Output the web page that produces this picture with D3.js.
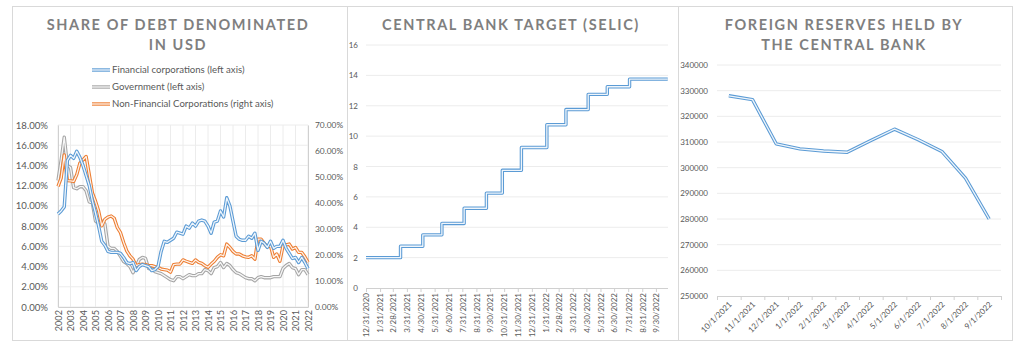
<!DOCTYPE html>
<html><head><meta charset="utf-8">
<script src="https://cdn.jsdelivr.net/npm/d3@7"></script>
<style>
html,body{margin:0;padding:0;background:#fff;}
svg{display:block;font-family:Lato,"Open Sans",sans-serif;}
</style></head>
<body><svg id="c" width="1024" height="348"></svg>
<script>
// ---------- DATA ----------
// Panel 1: quarterly, 2002Q1 .. 2022Q1
const yearTicks = ["2002","2003","2004","2005","2006","2007","2008","2009","2010","2011","2012","2013","2014","2015","2016","2017","2018","2019","2020","2021","2022"];
const financialCorp = [9.2,9.5,9.9,14.5,15.0,14.7,15.4,14.8,14.0,13.0,12.0,10.5,9.3,8.0,6.5,6.1,5.5,5.4,5.4,5.4,5.3,4.9,4.4,4.3,4.4,3.6,4.0,4.2,4.1,4.0,3.6,3.7,4.0,5.5,6.5,6.4,6.6,6.8,7.4,7.3,7.2,8.0,7.8,8.3,8.0,8.5,8.6,8.5,8.0,7.3,8.4,8.5,9.5,8.9,10.8,10.0,8.5,7.0,6.7,6.6,6.6,7.0,6.8,7.3,5.6,6.5,6.3,5.9,6.5,5.8,6.0,6.0,6.6,5.8,5.3,4.8,4.9,4.4,4.9,4.4,3.8];
const government = [12.5,14.5,16.8,14.0,13.8,11.8,11.7,11.9,11.9,11.5,10.4,10.3,8.5,8.3,8.5,8.2,6.0,5.8,5.8,5.5,5.0,4.5,4.3,4.0,3.4,4.0,4.7,4.9,4.8,3.8,3.8,3.5,3.4,3.3,3.1,2.9,2.7,2.6,3.0,3.0,2.8,3.0,3.2,3.1,3.1,3.3,3.3,3.7,3.6,3.3,3.9,4.0,4.4,3.9,4.3,4.1,3.7,3.4,3.3,3.1,2.9,2.8,2.8,2.6,2.9,3.0,2.9,2.9,2.9,3.0,3.0,3.0,3.8,4.1,4.3,3.9,3.8,3.2,3.7,3.7,3.2];
const nonFinancialCorp = [46.4,49.6,58.5,48.6,48.5,48.3,50.9,55.3,56.6,57.9,50.9,43.9,40.7,36.9,31.2,33.7,34.6,35.0,34.1,30.5,28.6,24.8,21.6,19.7,18.4,15.9,16.3,16.5,16.3,15.9,15.9,15.5,15.3,14.6,14.4,14.2,13.4,16.3,16.5,16.5,18.1,17.6,17.2,16.8,18.1,17.2,16.8,15.9,15.3,16.5,17.6,19.1,20.1,19.7,24.2,22.9,21.4,20.4,20.4,19.7,19.3,19.1,19.7,18.4,26.1,26.1,24.4,23.2,23.5,19.1,20.4,17.6,23.5,23.9,24.2,22.3,22.9,21.0,21.0,19.3,17.2];
const leftTicks = [0,2,4,6,8,10,12,14,16,18];
const rightTicks = [0,10,20,30,40,50,60,70];
const legendLabels = ["Financial corporations (left axis)","Government (left axis)","Non-Financial Corporations (right axis)"];

// Panel 2: SELIC target changes
const selicDates = ["2020-12-31","2021-03-17","2021-05-05","2021-06-16","2021-08-04","2021-09-22","2021-10-27","2021-12-08","2022-02-02","2022-03-16","2022-05-04","2022-06-15","2022-08-03","2022-10-26"];
const selicValues = [2.00,2.75,3.50,4.25,5.25,6.25,7.75,9.25,10.75,11.75,12.75,13.25,13.75,13.75];
const selicTickLabels = ["12/31/2020","1/31/2021","2/28/2021","3/31/2021","4/30/2021","5/31/2021","6/30/2021","7/31/2021","8/31/2021","9/30/2021","10/31/2021","11/30/2021","12/31/2021","1/31/2022","2/28/2022","3/31/2022","4/30/2022","5/31/2022","6/30/2022","7/31/2022","8/31/2022","9/30/2022"];
const selicYTicks = [0,2,4,6,8,10,12,14,16];

// Panel 3: foreign reserves
const reserveMonths = ["10/1/2021","11/1/2021","12/1/2021","1/1/2022","2/1/2022","3/1/2022","4/1/2022","5/1/2022","6/1/2022","7/1/2022","8/1/2022","9/1/2022"];
const reserveValues = [328000,326500,309300,307300,306500,306000,310600,315000,310900,306300,295900,280000];
const reserveYTicks = [250000,260000,270000,280000,290000,300000,310000,320000,330000,340000];

// ---------- STYLE ----------
const C_BLUE="#5b9bd5", C_GRAY="#a5a5a5", C_ORANGE="#ed7d31";
const TXT="#595959", TITLE="#7f7f7f", GRID="#ececec", AXIS="#d0d0d0", BORDER="#d9d9d9";

const svg = d3.select("#c");

function panel(x0,y0,x1,y1){
  svg.append("rect").attr("x",x0+0.5).attr("y",y0+0.5).attr("width",x1-x0).attr("height",y1-y0)
    .attr("fill","#fff").attr("stroke",BORDER).attr("stroke-width",1);
}
function title(lines,cx,baselines){
  lines.forEach((t,i)=>{
    svg.append("text").attr("x",cx).attr("y",baselines[i]).attr("text-anchor","middle")
      .attr("fill",TITLE).attr("font-weight","bold").attr("font-size","14.5px")
      .attr("letter-spacing","1.6px").text(t);
  });
}
function dblLine(g,d,color){
  g.append("path").attr("d",d).attr("fill","none").attr("stroke",color).attr("stroke-width",3.4).attr("stroke-linejoin","round");
  g.append("path").attr("d",d).attr("fill","none").attr("stroke","#fff").attr("stroke-width",1.3).attr("stroke-linejoin","round").attr("opacity",0.9);
}

// ---------- PANELS ----------
panel(12,6,347,340);
panel(347,6,678,340);
panel(678,6,1012,340);

// ---------- PANEL 1 ----------
title(["SHARE OF DEBT DENOMINATED","IN USD"],178,[30,50]);

const legendColors=[C_BLUE,C_GRAY,C_ORANGE];
legendLabels.forEach((l,i)=>{
  const y=70+i*17;
  const g=svg.append("g");
  dblLine(g,`M92,${y}L110,${y}`,legendColors[i]);
  svg.append("text").attr("x",112).attr("y",y+3.3).attr("fill",TXT).attr("font-size","9.6px").text(l);
});

const x1 = d3.scaleLinear().domain([2002,2022]).range([58,308]);
const yL = d3.scaleLinear().domain([0,18]).range([307,125]);
const yR = d3.scaleLinear().domain([0,70]).range([307,125]);
const p1 = svg.append("g");
p1.append("g").selectAll("line").data(yearTicks).join("line")
  .attr("x1",d=>x1(+d)).attr("x2",d=>x1(+d)).attr("y1",125).attr("y2",307).attr("stroke",GRID);
p1.append("g").selectAll("line").data(leftTicks).join("line")
  .attr("x1",58).attr("x2",308).attr("y1",d=>yL(d)).attr("y2",d=>yL(d)).attr("stroke",GRID);
const axL = p1.append("g").attr("transform","translate(58,0)")
  .call(d3.axisLeft(yL).tickValues(leftTicks).tickSize(0).tickPadding(10).tickFormat(d=>d3.format(".2f")(d)+"%"));
const axR = p1.append("g").attr("transform","translate(308,0)")
  .call(d3.axisRight(yR).tickValues(rightTicks).tickSize(0).tickPadding(7).tickFormat(d=>d3.format(".2f")(d)+"%"));
const axB = p1.append("g").attr("transform","translate(0,307)")
  .call(d3.axisBottom(x1).tickValues(yearTicks.map(Number)).tickSize(0).tickFormat(d3.format("d")));
axB.selectAll("text").attr("transform","rotate(-90)").attr("text-anchor","end").attr("x",-3).attr("y",0).attr("dy","0.35em");
[axL,axR,axB].forEach(a=>{a.select(".domain").attr("stroke",AXIS);a.selectAll("text").attr("fill",TXT).attr("font-size","9.6px").attr("font-family","Lato,'Open Sans',sans-serif");});
axR.selectAll("text").attr("font-size","8.4px");
axB.selectAll("text").attr("font-size","9.2px");
const qx = (d,i)=>x1(2002+i/4);
dblLine(p1,d3.line().x(qx).y(d=>yL(d))(government),C_GRAY);
dblLine(p1,d3.line().x(qx).y(d=>yR(d))(nonFinancialCorp),C_ORANGE);
dblLine(p1,d3.line().x(qx).y(d=>yL(d))(financialCorp),C_BLUE);

// ---------- PANEL 2 ----------
title(["CENTRAL BANK TARGET (SELIC)"],511,[30]);
const parse = d3.timeParse("%Y-%m-%d");
const parseMDY = d3.timeParse("%m/%d/%Y");
const x2 = d3.scaleTime().domain([parseMDY("12/31/2020"),parse("2022-10-31")]).range([366,670]);
const y2 = d3.scaleLinear().domain([0,16]).range([288,45]);
const p2 = svg.append("g");
p2.append("g").selectAll("line").data(selicYTicks.filter(d=>d>0)).join("line")
  .attr("x1",366).attr("x2",668).attr("y1",d=>y2(d)).attr("y2",d=>y2(d)).attr("stroke",GRID);
const ax2L = p2.append("g").attr("transform","translate(366,0)")
  .call(d3.axisLeft(y2).tickValues(selicYTicks).tickSize(0).tickPadding(8));
ax2L.select(".domain").remove();
const ax2B = p2.append("g").attr("transform","translate(0,288)")
  .call(d3.axisBottom(x2).tickValues(selicTickLabels.map(parseMDY)).tickSize(4).tickFormat((d,i)=>selicTickLabels[i]));
ax2B.select(".domain").attr("d","M366,0.5H668");
ax2B.selectAll(".tick line").attr("stroke",AXIS);
ax2B.selectAll("text").attr("transform","rotate(-90)").attr("text-anchor","end").attr("x",-5).attr("y",0).attr("dy","0.35em");
[ax2L,ax2B].forEach(a=>{a.select(".domain").attr("stroke",AXIS);a.selectAll("text").attr("fill",TXT).attr("font-size","8px").attr("font-family","Lato,'Open Sans',sans-serif");});
const selicPts = selicDates.map((d,i)=>[parse(d),selicValues[i]]);
dblLine(p2,d3.line().x(d=>x2(d[0])).y(d=>y2(d[1])).curve(d3.curveStepAfter)(selicPts),C_BLUE);

// ---------- PANEL 3 ----------
title(["FOREIGN RESERVES HELD BY","THE CENTRAL BANK"],844,[30,50]);
const x3 = d3.scaleBand().domain(reserveMonths).range([717,1001]);
const y3 = d3.scaleLinear().domain([250000,340000]).range([296,65]);
const p3 = svg.append("g");
p3.append("g").selectAll("line").data(reserveYTicks.filter(d=>d>250000)).join("line")
  .attr("x1",717).attr("x2",1001).attr("y1",d=>y3(d)).attr("y2",d=>y3(d)).attr("stroke",GRID);
const ax3L = p3.append("g").attr("transform","translate(717,0)")
  .call(d3.axisLeft(y3).tickValues(reserveYTicks).tickSize(0).tickPadding(9).tickFormat(d3.format("d")));
ax3L.select(".domain").remove();
const ax3B = p3.append("g").attr("transform","translate(0,296)")
  .call(d3.axisBottom(x3).tickSize(0));
ax3B.select(".domain").attr("stroke",AXIS);
p3.append("g").selectAll("line").data(reserveMonths.concat(["_end"])).join("line")
  .attr("x1",(d,i)=>717+i*x3.step()+0.5).attr("x2",(d,i)=>717+i*x3.step()+0.5)
  .attr("y1",296).attr("y2",300).attr("stroke",AXIS);
ax3B.selectAll("text").attr("transform","rotate(-45)").attr("text-anchor","end").attr("x",-4).attr("y",6).attr("dy","0.35em");
[ax3L,ax3B].forEach(a=>{a.selectAll("text").attr("fill",TXT).attr("font-size","8px").attr("font-family","Lato,'Open Sans',sans-serif");});
dblLine(p3,d3.line().x(d=>x3(d)+x3.bandwidth()/2).y((d,i)=>y3(reserveValues[i]))(reserveMonths),C_BLUE);
</script></body></html>
